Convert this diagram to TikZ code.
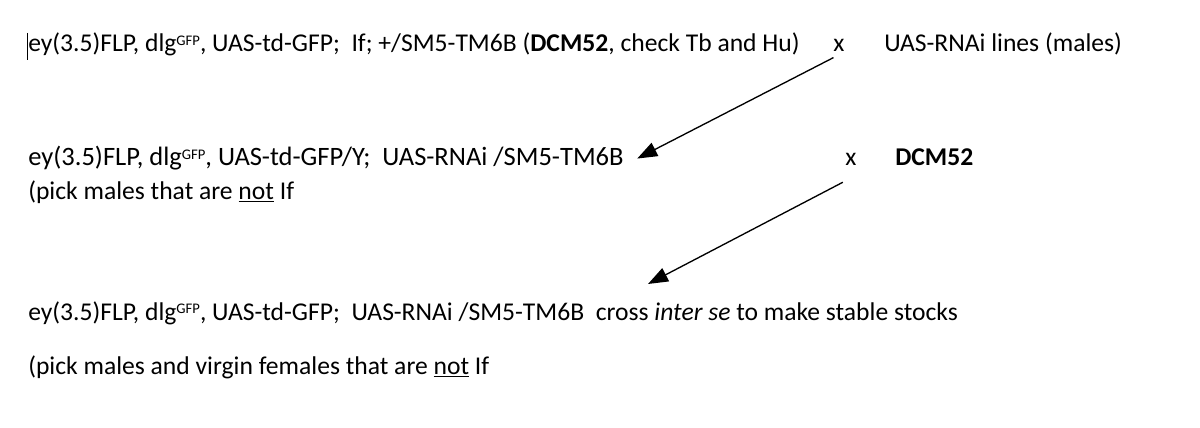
\documentclass[tikz,border=0pt]{standalone}
\usepackage{fontspec}
\setmainfont{Carlito}
\usepackage{xcolor}
\usetikzlibrary{arrows.meta}
\newcommand{\gfp}{\raisebox{0.55ex}{\fontsize{11}{11}\selectfont GFP}}

\begin{document}
\begin{tikzpicture}[x=0.75pt,y=-0.75pt,
  gen/.style={anchor=base west,inner sep=0pt,font=\fontsize{19.2}{22}\selectfont},
  cross/.style={-{Triangle[length=15pt,width=11pt]},line width=1pt}]
 \useasboundingbox (0,0) rectangle (1200,428);
 \draw[line width=0.6pt] (27,33) -- (27,60);
 \node[gen] (p1) at (28,52) {ey(3.5)FLP, dlg\gfp, UAS-td-GFP;\ \ If; +/SM5-TM6B (\textbf{DCM52}, check Tb and Hu)};
 \node[gen] (x1) at (833,52) {x};
 \node[gen] (m1) at (884,52) {UAS-RNAi lines (males)};

 \node[gen,font=\fontsize{19.9}{22}\selectfont] (f1) at (28,166) {ey(3.5)FLP, dlg\gfp, UAS-td-GFP/Y;\ \ UAS-RNAi /SM5-TM6B};
 \node[gen] (f1b) at (28,199) {(pick males that are \underline{not} If};
 \node[gen] (x2) at (845,166) {x};
 \node[gen] (d2) at (895,166) {\textbf{DCM52}};

 \node[gen] (f2) at (28,320) {ey(3.5)FLP, dlg\gfp, UAS-td-GFP;\ \ UAS-RNAi /SM5-TM6B\ \ cross \textit{inter se} to make stable stocks};
 \node[gen] (f2b) at (28,374) {(pick males and virgin females that are \underline{not} If};

 \coordinate (t2) at (648,284);
 \draw[cross] ([xshift=-4pt,yshift=-4pt]x1.south) -- ([xshift=10pt]f1.east);
 \draw[cross] ([xshift=-6pt,yshift=-12pt]x2.south) -- (t2);
\end{tikzpicture}
\end{document}
